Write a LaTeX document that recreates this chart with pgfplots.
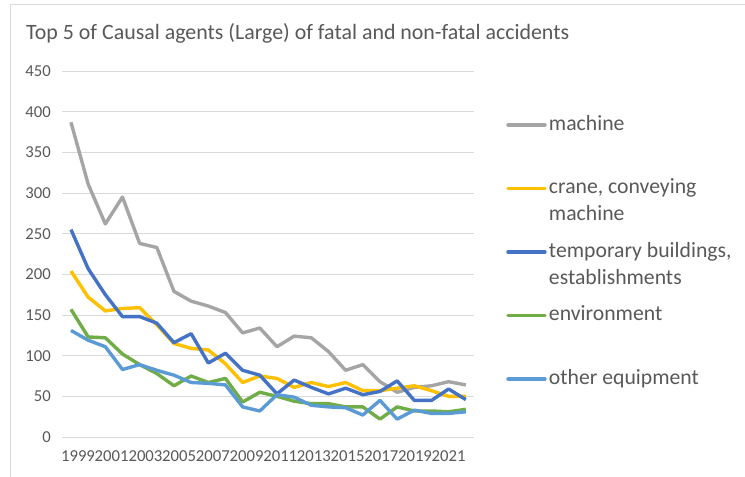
\documentclass[border=0pt]{standalone}
\usepackage{fontspec}
\setmainfont{Carlito}
\usepackage{pgfplots}
\usepackage{pgfplotstable}
\pgfplotsset{compat=1.18}
\definecolor{cgrey}{HTML}{A5A5A5}
\definecolor{cyellow}{HTML}{FFC000}
\definecolor{cblue}{HTML}{4472C4}
\definecolor{cgreen}{HTML}{70AD47}
\definecolor{clblue}{HTML}{5B9BD5}
\definecolor{gridc}{HTML}{D9D9D9}
\definecolor{txt}{HTML}{595959}

\pgfplotstableread{
idx year machine crane temp env other
0  1999 387 204 255 157 131
1  2000 311 172 207 123 119
2  2001 262 155 175 122 111
3  2002 295 158 148 102 83
4  2003 238 159 148 89 89
5  2004 233 138 140 78 82
6  2005 179 115 116 63 76
7  2006 167 109 127 75 67
8  2007 161 107 91 67 66
9  2008 153 90 103 72 64
10 2009 128 67 82 43 37
11 2010 134 75 76 55 32
12 2011 111 72 53 50 52
13 2012 124 61 70 44 49
14 2013 122 67 61 41 39
15 2014 105 62 53 41 37
16 2015 82 67 60 37 36
17 2016 89 57 52 37 27
18 2017 68 57 56 22 45
19 2018 55 60 69 37 22
20 2019 61 63 45 32 33
21 2020 63 57 45 32 29
22 2021 68 50 59 31 29
23 2022 64 50 46 34 31
}\datatable

\begin{document}
\begin{tikzpicture}
\path[use as bounding box] (0pt,0pt) rectangle (745pt,477pt);
\fill[white] (0pt,0pt) rectangle (745pt,477pt);
\draw[gridc, line width=1pt] (10pt,0pt) -- (10pt,472pt) -- (745pt,472pt);
\node[anchor=base west, inner sep=0pt, text=txt, font=\fontsize{21.9}{26}\selectfont] at (26pt,437.5pt) {Top 5 of Causal agents (Large) of fatal and non-fatal accidents};
\begin{axis}[
  at={(62.4pt,40pt)}, anchor=south west,
  scale only axis, width=412pt, height=366pt,
  xmin=-0.5, xmax=23.5, ymin=0, ymax=450,
  ytick={0,50,...,450},
  xtick={0.41,2.37,4.34,6.30,8.26,10.23,12.19,14.15,16.11,18.08,20.04,22.00},
  xticklabels={1999,2001,2003,2005,2007,2009,2011,2013,2015,2017,2019,2021},
  ymajorgrids, grid style={gridc, line width=1pt},
  axis line style={draw=none},
  major tick length=0pt,
  tick label style={text=txt, font=\fontsize{16.7}{20}\selectfont},
  /pgf/number format/assume math mode=true,
  yticklabel style={xshift=-8pt},
  xticklabel style={yshift=-10pt},
  clip=false,
  legend style={at={(1.0774,0.8904)}, anchor=north west, draw=none, fill=none,
    inner sep=0pt, outer sep=0pt, row sep=0pt, column sep=2.3pt,
    nodes={inner sep=0pt, text depth=, text=txt},
    cells={anchor=base west},
    font=\fontsize{21.7}{27}\selectfont},
  legend image code/.code={\draw[#1, line cap=round] (0pt,5pt) -- (37pt,5pt);},
  every axis plot/.append style={line width=3.4pt, line join=round},
]
\addplot[cgrey] table[x=idx,y=machine]{\datatable};
\addlegendentry{\parbox[t][63.5pt][t]{200pt}{\strut machine}}
\addplot[cyellow] table[x=idx,y=crane]{\datatable};
\addlegendentry{\parbox[t][63.5pt][t]{200pt}{\strut crane, conveying\\machine}}
\addplot[cblue] table[x=idx,y=temp]{\datatable};
\addlegendentry{\parbox[t][63.5pt][t]{200pt}{\strut temporary buildings,\\establishments}}
\addplot[cgreen] table[x=idx,y=env]{\datatable};
\addlegendentry{\parbox[t][63.5pt][t]{200pt}{\strut environment}}
\addplot[clblue] table[x=idx,y=other]{\datatable};
\addlegendentry{\parbox[t][63.5pt][t]{200pt}{\strut other equipment}}
\end{axis}
\end{tikzpicture}
\end{document}
